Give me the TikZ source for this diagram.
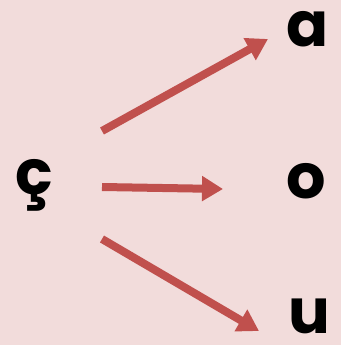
\documentclass[tikz,border=0pt]{standalone}
\usepackage{fontspec}
\setmainfont{Poppins}[UprightFont=* Bold]
\usepackage{xcolor}
\usetikzlibrary{arrows.meta, positioning}
\definecolor{bgpink}{HTML}{F2DCDB}
\definecolor{arrowred}{HTML}{C0504D}

\begin{document}
\begin{tikzpicture}[
    x=1pt, y=-1pt,
    letter/.style={inner sep=0pt, anchor=base west, font=\fontsize{62}{62}\selectfont},
    arrow/.style={-{Triangle[length=21pt, width=24pt]}, line width=8pt, draw=arrowred, fill=arrowred}
  ]
    
    % Background
    \fill[bgpink] (0,0) rectangle (341,345);
    \useasboundingbox (0,0) rectangle (341,345);
    
    % Letters
    \node[letter] (cedil) at (15,194) {ç};
    \node[letter] (a) at (286,46) {a};
    \node[letter] (o) at (286,198) {o};
    \node[letter] (u) at (288,333) {u};
    
    % Arrow ends
    \coordinate (top-start) at (102,131);
    \coordinate (top-end) at (268,39);
    \coordinate (mid-start) at (102,187);
    \coordinate (mid-end) at (223,189);
    \coordinate (bot-start) at (102,239);
    \coordinate (bot-end) at (259,331);
    
    % Arrows
    \draw[arrow] (top-start) -- (top-end);
    \draw[arrow] (mid-start) -- (mid-end);
    \draw[arrow] (bot-start) -- (bot-end);
    
  \end{tikzpicture}
\end{document}
